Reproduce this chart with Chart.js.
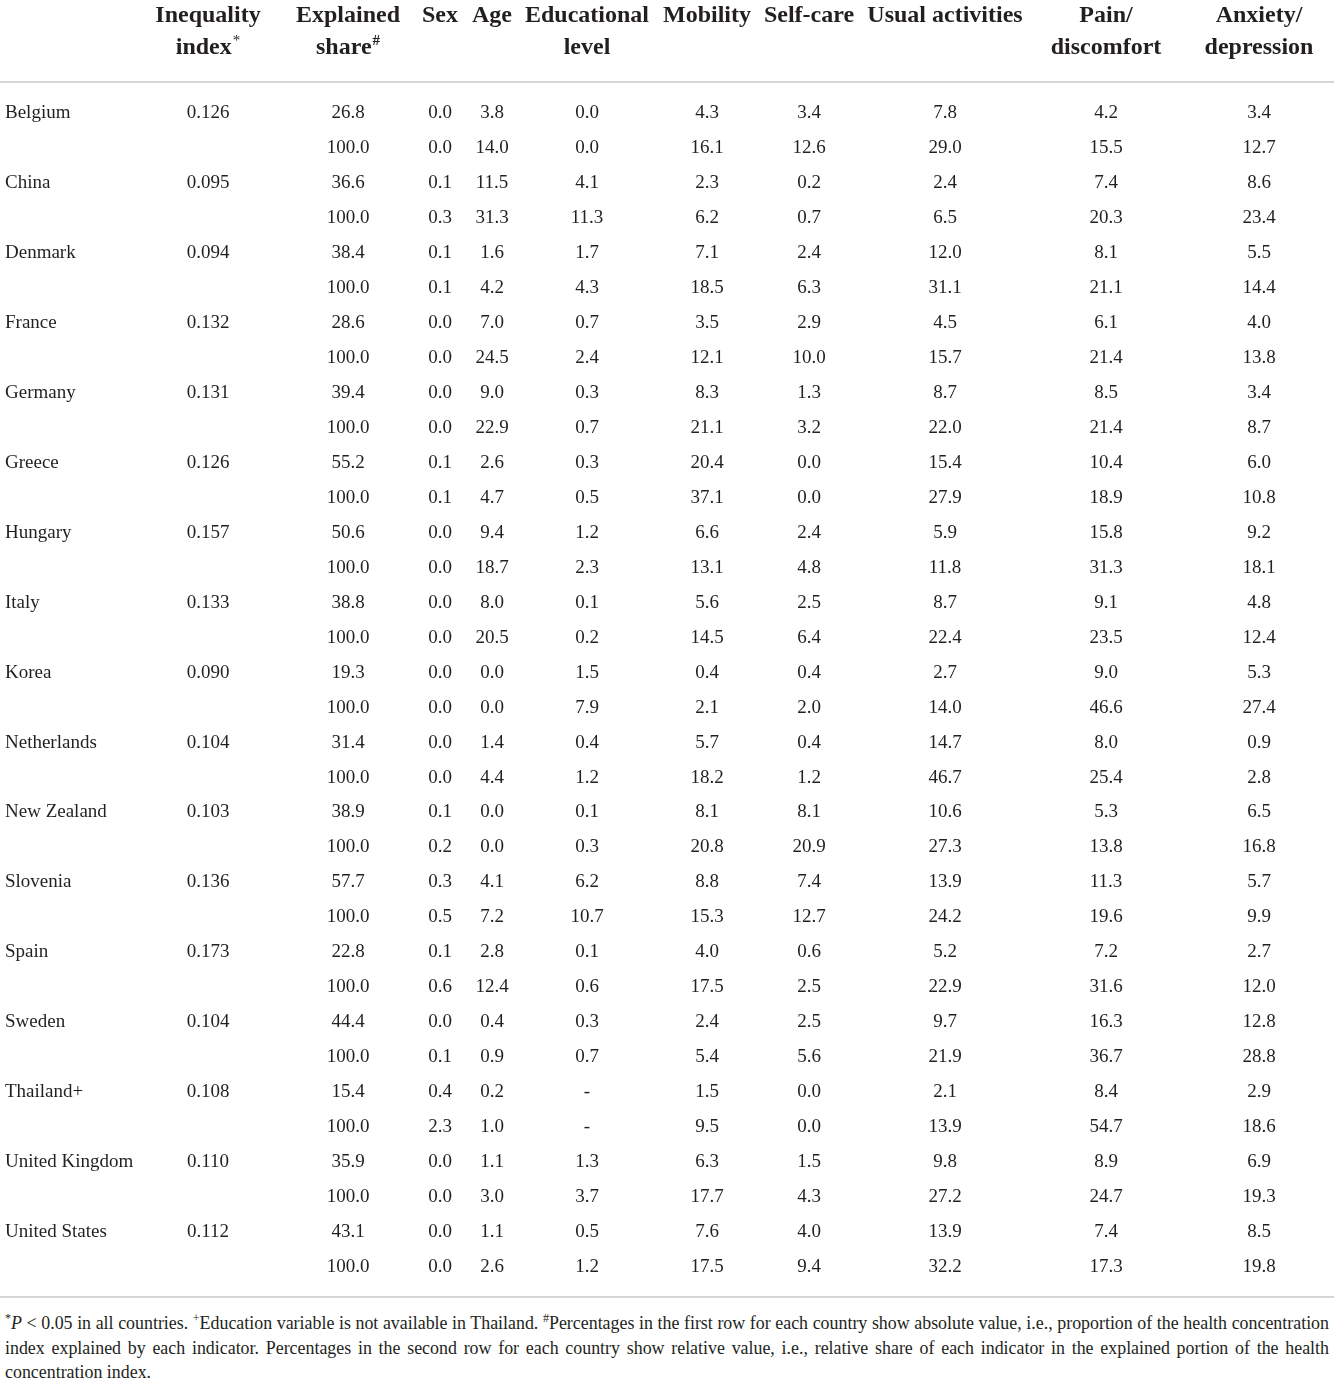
<!DOCTYPE html>
<html>
<head>
<meta charset="utf-8">
<script src="https://cdn.jsdelivr.net/npm/chart.js@4.4.1/dist/chart.umd.min.js"></script>
<style>
  body { margin: 0; background: #fff; }
  #wrap { position: relative; width: 1334px; height: 1305px; }
  #notes {
    width: 1324px; margin: 0 5px; padding-top: 6px;
    font-family: "Liberation Serif", "DejaVu Serif", serif;
    font-size: 17.9px; line-height: 24.5px; color: #231f20;
  }
  #notes .j { text-align: justify; text-align-last: justify; white-space: nowrap; }
  #notes sup { font-size: 12px; line-height: 0; }
</style>
</head>
<body>
<div id="wrap"><canvas id="hciTable"></canvas></div>
<div id="notes">
  <div class="j"><sup>*</sup><i>P</i> &lt; 0.05 in all countries. <sup>+</sup>Education variable is not available in Thailand. <sup>#</sup>Percentages in the first row for each country show absolute value, i.e., proportion of the health concentration</div>
  <div class="j">index explained by each indicator. Percentages in the second row for each country show relative value, i.e., relative share of each indicator in the explained portion of the health</div>
  <div>concentration index.</div>
</div>
<script>
// Table data: every country has two rows (absolute, relative)

const countries = [
    'Belgium', 'China', 'Denmark', 'France', 'Germany', 'Greece',
    'Hungary', 'Italy', 'Korea', 'Netherlands', 'New Zealand', 'Slovenia',
    'Spain', 'Sweden', 'Thailand+', 'United Kingdom', 'United States',
];

const inequalityIndex = [
    0.126, 0.095, 0.094, 0.132, 0.131, 0.126, 0.157, 0.133, 0.090,
    0.104, 0.103, 0.136, 0.173, 0.104, 0.108, 0.110, 0.112,
];

const explainedShare = [
    26.8, 100.0,  36.6, 100.0,  38.4, 100.0,  28.6, 100.0,  39.4, 100.0,
    55.2, 100.0,  50.6, 100.0,  38.8, 100.0,  19.3, 100.0,  31.4, 100.0,
    38.9, 100.0,  57.7, 100.0,  22.8, 100.0,  44.4, 100.0,  15.4, 100.0,
    35.9, 100.0,  43.1, 100.0,
];

const sex = [
    0.0, 0.0,  0.1, 0.3,  0.1, 0.1,  0.0, 0.0,  0.0, 0.0,  0.1, 0.1,
    0.0, 0.0,  0.0, 0.0,  0.0, 0.0,  0.0, 0.0,  0.1, 0.2,  0.3, 0.5,
    0.1, 0.6,  0.0, 0.1,  0.4, 2.3,  0.0, 0.0,  0.0, 0.0,
];

const age = [
    3.8, 14.0,  11.5, 31.3,  1.6, 4.2,  7.0, 24.5,  9.0, 22.9,  2.6, 4.7,
    9.4, 18.7,  8.0, 20.5,  0.0, 0.0,  1.4, 4.4,  0.0, 0.0,  4.1, 7.2,
    2.8, 12.4,  0.4, 0.9,  0.2, 1.0,  1.1, 3.0,  1.1, 2.6,
];

const education = [
    0.0, 0.0,  4.1, 11.3,  1.7, 4.3,  0.7, 2.4,  0.3, 0.7,  0.3, 0.5,
    1.2, 2.3,  0.1, 0.2,  1.5, 7.9,  0.4, 1.2,  0.1, 0.3,  6.2, 10.7,
    0.1, 0.6,  0.3, 0.7,  null, null,  1.3, 3.7,  0.5, 1.2,
];

const mobility = [
    4.3, 16.1,  2.3, 6.2,  7.1, 18.5,  3.5, 12.1,  8.3, 21.1,  20.4, 37.1,
    6.6, 13.1,  5.6, 14.5,  0.4, 2.1,  5.7, 18.2,  8.1, 20.8,  8.8, 15.3,
    4.0, 17.5,  2.4, 5.4,  1.5, 9.5,  6.3, 17.7,  7.6, 17.5,
];

const selfCare = [
    3.4, 12.6,  0.2, 0.7,  2.4, 6.3,  2.9, 10.0,  1.3, 3.2,  0.0, 0.0,
    2.4, 4.8,  2.5, 6.4,  0.4, 2.0,  0.4, 1.2,  8.1, 20.9,  7.4, 12.7,
    0.6, 2.5,  2.5, 5.6,  0.0, 0.0,  1.5, 4.3,  4.0, 9.4,
];

const usualActivities = [
    7.8, 29.0,  2.4, 6.5,  12.0, 31.1,  4.5, 15.7,  8.7, 22.0,  15.4, 27.9,
    5.9, 11.8,  8.7, 22.4,  2.7, 14.0,  14.7, 46.7,  10.6, 27.3,  13.9, 24.2,
    5.2, 22.9,  9.7, 21.9,  2.1, 13.9,  9.8, 27.2,  13.9, 32.2,
];

const painDiscomfort = [
    4.2, 15.5,  7.4, 20.3,  8.1, 21.1,  6.1, 21.4,  8.5, 21.4,  10.4, 18.9,
    15.8, 31.3,  9.1, 23.5,  9.0, 46.6,  8.0, 25.4,  5.3, 13.8,  11.3, 19.6,
    7.2, 31.6,  16.3, 36.7,  8.4, 54.7,  8.9, 24.7,  7.4, 17.3,
];

const anxietyDepression = [
    3.4, 12.7,  8.6, 23.4,  5.5, 14.4,  4.0, 13.8,  3.4, 8.7,  6.0, 10.8,
    9.2, 18.1,  4.8, 12.4,  5.3, 27.4,  0.9, 2.8,  6.5, 16.8,  5.7, 9.9,
    2.7, 12.0,  12.8, 28.8,  2.9, 18.6,  6.9, 19.3,  8.5, 19.8,
];

// Column headers: each line is [text, superscript]
const headers = [
    [['Inequality', ''], ['index', '*']],
    [['Explained', ''], ['share', '#']],
    [['Sex', '']],
    [['Age', '']],
    [['Educational', ''], ['level', '']],
    [['Mobility', '']],
    [['Self-care', '']],
    [['Usual activities', '']],
    [['Pain/', ''], ['discomfort', '']],
    [['Anxiety/', ''], ['depression', '']],
];

// layout only: column centres on the x scale (page pixels)
const colCenter = [208, 348, 440, 492, 587, 707, 809, 945, 1106, 1259];
const countryX = 5;

const TEXT = '#231f20';
const SERIF = '"Liberation Serif", "DejaVu Serif", serif';

const rowLabels = countries.flatMap(c => [c, '']);
const indexRows = inequalityIndex.flatMap(v => [v, null]);

const columns = [indexRows, explainedShare, sex, age, education, mobility,
    selfCare, usualActivities, painDiscomfort, anxietyDepression];

function cellText(v, col) {
    if (v === null) return col === 4 ? '-' : null;
    return col === 0 ? v.toFixed(3) : v.toFixed(1);
}

const datasets = columns.map((vals, col) => {
    const pts = [];
    const txt = [];
    vals.forEach((v, row) => {
        const t = cellText(v, col);
        if (t === null) return;
        pts.push({ x: colCenter[col], y: row });
        txt.push(t);
    });
    return { data: pts, text: txt, align: 'center', pointRadius: 0 };
});

const countryPts = [];
const countryTxt = [];
rowLabels.forEach((c, row) => {
    if (!c) return;
    countryPts.push({ x: countryX, y: row });
    countryTxt.push(c);
});
datasets.unshift({ data: countryPts, text: countryTxt, align: 'left', pointRadius: 0 });

const tableText = {
    id: 'tableText',
    afterDatasetsDraw(chart) {
        const ctx = chart.ctx;
        const area = chart.chartArea;
        const xs = chart.scales.x;
        ctx.save();

        // rules
        ctx.strokeStyle = '#c9c9c9';
        ctx.lineWidth = 1.5;
        [area.top, area.bottom].forEach(y => {
            ctx.beginPath();
            ctx.moveTo(0, y);
            ctx.lineTo(chart.width, y);
            ctx.stroke();
        });

        // body cells
        ctx.fillStyle = TEXT;
        ctx.font = '19px ' + SERIF;
        ctx.textBaseline = 'middle';
        chart.data.datasets.forEach((ds, i) => {
            ctx.textAlign = ds.align;
            chart.getDatasetMeta(i).data.forEach((pt, j) => {
                ctx.fillText(ds.text[j], pt.x, pt.y + 1.5);
            });
        });

        // header
        const lineY = [16, 48];
        headers.forEach((lines, col) => {
            const cx = xs.getPixelForValue(colCenter[col]);
            lines.forEach(([t, sup], k) => {
                ctx.font = 'bold 24px ' + SERIF;
                const w = ctx.measureText(t).width;
                ctx.font = 'bold 15px ' + SERIF;
                const sw = sup ? ctx.measureText(sup).width + 1 : 0;
                const x0 = cx - (w + sw) / 2;
                ctx.textAlign = 'left';
                ctx.font = 'bold 24px ' + SERIF;
                ctx.fillText(t, x0, lineY[k]);
                if (sup) {
                    ctx.font = (sup === '*' ? '' : 'bold ') + '15px ' + SERIF;
                    ctx.fillText(sup, x0 + w + 1, lineY[k] - 7);
                }
            });
        });
        ctx.restore();
    }
};

const tableConfig = {
    type: 'scatter',
    data: { datasets: datasets },
    options: {
        responsive: true,
        maintainAspectRatio: false,
        animation: false,
        events: [],
        layout: { padding: { top: 82, bottom: 8, left: 0, right: 0 } },
        plugins: { legend: { display: false }, tooltip: { enabled: false } },
        scales: {
            x: { type: 'linear', display: false, min: 0, max: 1334 },
            y: { type: 'linear', display: false, reverse: true, min: -0.85, max: 33.9 },
        },
    },
    plugins: [tableText],
};

const hciTable = new Chart(document.getElementById('hciTable'), tableConfig);
</script>
</body>
</html>
